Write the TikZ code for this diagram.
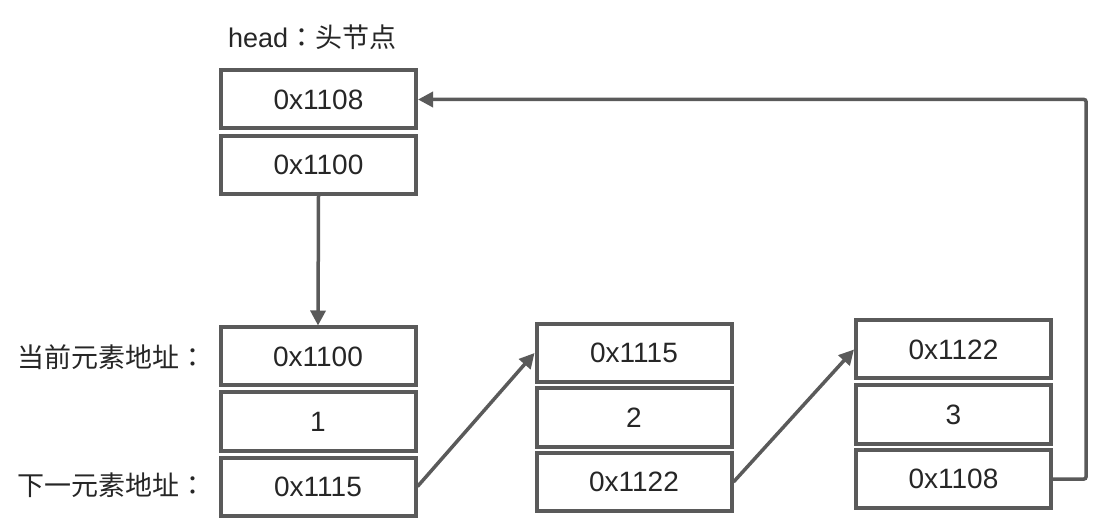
\documentclass[tikz,border=0pt]{standalone}
\usepackage{fontspec}
\setmainfont{Liberation Sans}
\newfontfamily\cjk{Noto Sans CJK SC}
\newfontfamily\cjkc{Noto Sans CJK TC}
\usetikzlibrary{arrows.meta}
\definecolor{ln}{HTML}{5A5A5A}
\begin{document}
\begin{tikzpicture}[x=1pt,y=-1pt,
  cell/.style={draw=ln,line width=4pt,fill=white,minimum width=195pt,minimum height=58pt,inner sep=0pt,font=\fontsize{28}{30}\selectfont,text=black!85},
  lbl/.style={anchor=west,inner sep=0pt,font=\fontsize{27}{30}\selectfont,text=black!85},
  link/.style={draw=ln,line width=3.5pt,-{Triangle[length=15pt,width=15pt]}}]
\useasboundingbox (0,0) rectangle (1093,521);
\node[lbl] (hl) at (228,37) {head{\cjkc ：}\cjk 头节点};
\node[lbl] (l1) at (17,357) {\cjk 当前元素地址{\cjkc ：}};
\node[lbl] (l2) at (17,485) {\cjk 下一元素地址{\cjkc ：}};
\node[cell] (h1) at (318.5,99.5) {0x1108};
\node[cell] (h2) at (318.5,165) {0x1100};
\node[cell] (a1) at (318,356.5) {0x1100};
\node[cell] (a2) at (318,421.5) {1};
\node[cell] (a3) at (318,486.5) {0x1115};
\node[cell] (b1) at (634,353) {0x1115};
\node[cell] (b2) at (634,417.5) {2};
\node[cell] (b3) at (634,482) {0x1122};
\node[cell] (c1) at (953.5,349.5) {0x1122};
\node[cell] (c2) at (953.5,414.5) {3};
\node[cell] (c3) at (953.5,479) {0x1108};
\coordinate (r) at (1086,479);
\draw[link] (h2.south) -- (a1.north);
\draw[link] (a3.east) -- (b1.west);
\draw[link] (b3.east) -- (c1.west);
\draw[link,rounded corners=2pt] (c3.east) -- (r) |- (h1.east);
\end{tikzpicture}
\end{document}
